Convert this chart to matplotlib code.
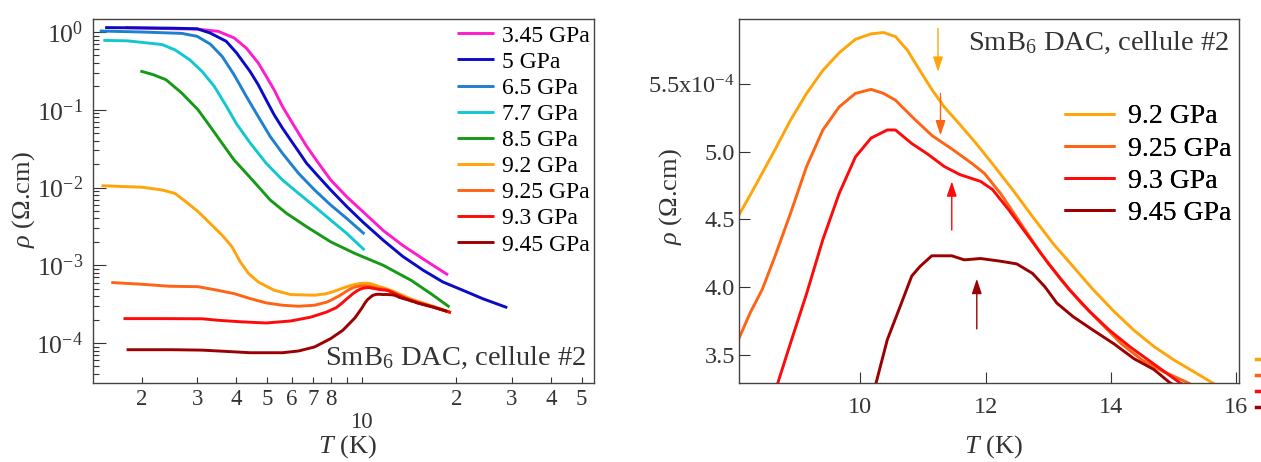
import numpy as np
import matplotlib
matplotlib.use('Agg')
import matplotlib.pyplot as plt
from matplotlib import ticker
from matplotlib.lines import Line2D

plt.rcParams['font.family'] = ['Liberation Serif', 'DejaVu Serif']
plt.rcParams['mathtext.fontset'] = 'custom'
plt.rcParams['mathtext.rm'] = 'Liberation Serif'
plt.rcParams['mathtext.it'] = 'Liberation Serif:italic'
plt.rcParams['axes.unicode_minus'] = False

#data: temperature T (K), resistivity rho (Ohm.cm)
labels = ['3.45 GPa', '5 GPa', '6.5 GPa', '7.7 GPa', '8.5 GPa',
          '9.2 GPa', '9.25 GPa', '9.3 GPa', '9.45 GPa']
colors = ['#ff1ccc', '#0a0ac8', '#1f80d0', '#12c8d0', '#169a16',
          '#ffa40a', '#ff6414', '#ff0a0a', '#9c0000']

T_345 = [1.77, 2.3, 3.0, 3.5, 3.93, 4.3, 4.69, 4.97, 5.27, 5.6, 5.94, 6.3, 6.68,
         7.29, 7.97, 8.96, 10.08, 11.7, 13.5, 15.7, 18.8]
r_345 = [1.14, 1.11, 1.09, 1.02, 0.84, 0.62, 0.40, 0.27, 0.18, 0.11, 0.074, 0.050,
         0.034, 0.0205, 0.0125, 7.6e-3, 4.9e-3, 2.8e-3, 1.8e-3, 1.2e-3, 7.5e-4]

T_5 = [1.53, 2.0, 2.5, 3.0, 3.3, 3.71, 4.0, 4.42, 4.69, 4.97, 5.27, 5.6, 5.94, 6.3,
       6.68, 7.29, 7.97, 8.96, 10.08, 11.7, 13.5, 15.7, 18.1, 21.0, 24.3, 29.0]
r_5 = [1.14, 1.13, 1.12, 1.10, 0.97, 0.76, 0.54, 0.31, 0.21, 0.134, 0.086, 0.058,
       0.041, 0.029, 0.0205, 0.0138, 9.3e-3, 5.7e-3, 3.6e-3, 2.1e-3, 1.3e-3, 8.6e-4,
       6.1e-4, 4.75e-4, 3.7e-4, 2.85e-4]

T_65 = [1.47, 2.0, 2.68, 3.0, 3.3, 3.6, 3.93, 4.3, 4.69, 5.12, 5.6, 6.3, 7.08, 7.97,
        8.96, 10.2]
r_65 = [1.03, 1.0, 0.96, 0.88, 0.70, 0.486, 0.282, 0.148, 0.0818, 0.0452, 0.0275,
        0.0152, 9.3e-3, 5.95e-3, 4.0e-3, 2.52e-3]

T_77 = [1.51, 1.8, 2.32, 2.55, 2.84, 3.11, 3.40, 3.71, 4.0, 4.42, 4.97, 5.6, 6.3,
        7.08, 7.97, 8.96, 10.2]
r_77 = [0.78, 0.77, 0.69, 0.59, 0.44, 0.311, 0.20, 0.112, 0.066, 0.0375, 0.0205,
        0.0125, 8.4e-3, 5.7e-3, 3.81e-3, 2.57e-3, 1.57e-3]

T_85 = [1.98, 2.18, 2.39, 2.68, 3.02, 3.3, 3.6, 3.93, 4.3, 4.69, 5.12, 5.77, 6.68,
        7.97, 9.51, 11.7, 14.35, 16.6, 19.0]
r_85 = [0.315, 0.282, 0.243, 0.164, 0.0998, 0.0608, 0.0371, 0.0226, 0.0152, 0.0103,
        6.9e-3, 4.65e-3, 3.13e-3, 2.0e-3, 1.42e-3, 1.0e-3, 6.4e-4, 4.3e-4, 2.9e-4]

T_92 = [1.49, 1.73, 2.0, 2.32, 2.55, 2.76, 3.02, 3.30, 3.60, 3.87, 4.11, 4.37, 4.69,
        5.27, 5.94, 7.08, 7.7, 8.05, 8.24, 8.43, 8.63, 8.88, 9.14, 9.40, 9.66, 9.92,
        10.17, 10.37, 10.56, 10.75, 10.95, 11.14, 11.34, 11.59, 11.85, 12.11, 12.43,
        12.75, 13.08, 13.4, 13.72, 14.05, 14.37, 14.69, 15.01, 15.34, 15.63, 17.3, 19.2]
r_92 = [1.056e-2, 1.03e-2, 1.01e-2, 9.3e-3, 8.4e-3, 6.57e-3, 4.9e-3, 3.45e-3, 2.44e-3,
        1.73e-3, 1.11e-3, 7.83e-4, 6.1e-4, 4.77e-4, 4.2e-4, 4.12e-4, 4.3e-4,
        4.525e-4, 4.68e-4, 4.84e-4, 5.01e-4, 5.23e-4, 5.43e-4, 5.60e-4, 5.73e-4,
        5.83e-4, 5.87e-4, 5.88e-4, 5.85e-4, 5.75e-4, 5.60e-4, 5.46e-4, 5.33e-4,
        5.20e-4, 5.06e-4, 4.91e-4, 4.72e-4, 4.52e-4, 4.32e-4, 4.15e-4, 3.98e-4,
        3.82e-4, 3.68e-4, 3.56e-4, 3.46e-4, 3.37e-4, 3.29e-4, 2.85e-4, 2.45e-4]

T_925 = [1.60, 2.0, 2.45, 3.02, 3.39, 3.93, 4.42, 4.97, 5.6, 6.3, 7.08, 7.73, 8.05,
         8.24, 8.43, 8.63, 8.88, 9.14, 9.40, 9.66, 9.92, 10.17, 10.37, 10.56, 10.82,
         11.14, 11.46, 11.79, 11.98, 12.24, 12.56, 12.88, 13.21, 13.53, 13.85, 14.17,
         14.5, 14.82, 15.24, 17.0, 19.2]
r_925 = [6.0e-4, 5.7e-4, 5.37e-4, 5.3e-4, 4.87e-4, 4.32e-4, 3.73e-4, 3.28e-4, 3.06e-4,
         2.97e-4, 3.06e-4, 3.35e-4, 3.61e-4, 3.81e-4, 3.98e-4, 4.22e-4, 4.54e-4,
         4.89e-4, 5.16e-4, 5.33e-4, 5.43e-4, 5.46e-4, 5.43e-4, 5.38e-4, 5.26e-4,
         5.12e-4, 5.02e-4, 4.91e-4, 4.84e-4, 4.69e-4, 4.47e-4, 4.25e-4, 4.05e-4,
         3.88e-4, 3.73e-4, 3.58e-4, 3.46e-4, 3.38e-4, 3.29e-4, 2.9e-4, 2.47e-4]

T_93 = [1.75, 2.32, 3.11, 3.5, 4.17, 4.97, 5.94, 6.88, 7.73, 8.3, 8.68, 8.88, 9.14,
        9.40, 9.66, 9.92, 10.17, 10.43, 10.56, 10.82, 11.08, 11.34, 11.59, 11.92,
        12.11, 12.37, 12.69, 13.01, 13.34, 13.66, 13.98, 14.3, 14.63, 15.11, 17.0, 19.2]
r_93 = [2.06e-4, 2.06e-4, 2.05e-4, 1.96e-4, 1.87e-4, 1.81e-4, 1.92e-4, 2.15e-4,
        2.5e-4, 2.85e-4, 3.29e-4, 3.58e-4, 3.95e-4, 4.35e-4, 4.69e-4, 4.96e-4,
        5.10e-4, 5.16e-4, 5.16e-4, 5.06e-4, 4.98e-4, 4.89e-4, 4.83e-4, 4.78e-4,
        4.72e-4, 4.57e-4, 4.37e-4, 4.17e-4, 3.98e-4, 3.82e-4, 3.68e-4, 3.56e-4,
        3.45e-4, 3.29e-4, 2.88e-4, 2.46e-4]

T_945 = [1.79, 2.5, 3.11, 3.71, 4.42, 5.6, 6.3, 7.08, 7.97, 8.71, 9.51, 10.0, 10.25,
         10.43, 10.63, 10.82, 10.95, 11.14, 11.46, 11.66, 11.92, 12.24, 12.5, 12.75,
         12.95, 13.14, 13.4, 13.72, 14.05, 14.37, 14.69, 14.95, 16.8, 18.7]
r_945 = [8.2e-5, 8.2e-5, 8.1e-5, 7.8e-5, 7.5e-5, 7.5e-5, 7.9e-5, 8.9e-5, 1.14e-4,
         1.46e-4, 2.1e-4, 2.8e-4, 3.29e-4, 3.61e-4, 3.85e-4, 4.08e-4, 4.15e-4,
         4.23e-4, 4.23e-4, 4.20e-4, 4.21e-4, 4.19e-4, 4.17e-4, 4.10e-4, 4.00e-4,
         3.88e-4, 3.78e-4, 3.68e-4, 3.58e-4, 3.47e-4, 3.39e-4, 3.29e-4, 2.9e-4, 2.55e-4]

series_T = [T_345, T_5, T_65, T_77, T_85, T_92, T_925, T_93, T_945]
series_r = [r_345, r_5, r_65, r_77, r_85, r_92, r_925, r_93, r_945]

#arrows on the zoomed panel: (T, rho tail, rho tip) in 1e-4 Ohm.cm
arrow_T = [11.24, 11.28, 11.46, 11.86]
arrow_tail = [5.91, 5.43, 4.42, 3.69]
arrow_tip = [5.59, 5.12, 4.78, 4.06]

W, H = 1261, 462
fig = plt.figure(figsize=(W/100, H/100), dpi=100)
ax1 = fig.add_axes([93/W, 1-383/H, 501/W, 364/H])
ax2 = fig.add_axes([739/W, 1-383/H, 500/W, 364/H])

txt = '#333333'
lw = 2.1

#left panel
for T, r, c, lab in zip(series_T, series_r, colors, labels):
    ax1.plot(T, r, color=c, lw=lw, label=lab, solid_capstyle='butt')

ax1.set_xscale('log')
ax1.set_yscale('log')
ax1.set_xlim(1.40, 54.7)
ax1.set_ylim(3.06e-5, 1.47)

ax1.xaxis.set_major_locator(ticker.FixedLocator([10]))
ax1.xaxis.set_major_formatter(ticker.FixedFormatter(['10']))
ax1.xaxis.set_minor_locator(ticker.FixedLocator([2, 3, 4, 5, 6, 7, 8, 9, 20, 30, 40, 50]))

def minor_lab(v, pos):
    d = int(round(v / 10**np.floor(np.log10(v))))
    return '' if d == 9 else str(d)

ax1.xaxis.set_minor_formatter(ticker.FuncFormatter(minor_lab))
ax1.yaxis.set_major_locator(ticker.LogLocator(base=10, numticks=10))
ax1.yaxis.set_minor_locator(ticker.LogLocator(base=10, subs=np.arange(2, 10), numticks=10))
ax1.yaxis.set_minor_formatter(ticker.NullFormatter())

ax1.tick_params(axis='x', which='major', direction='in', length=4, width=0.8,
                pad=21, labelsize=16.5, colors=txt)
ax1.tick_params(axis='x', which='minor', direction='in', length=4, width=0.8,
                pad=4, labelsize=16.5, colors=txt)
ax1.tick_params(axis='y', which='major', direction='in', length=9, width=0.8,
                pad=7, labelsize=18.5, colors=txt)
ax1.tick_params(axis='y', which='minor', direction='in', length=4, width=0.8, colors=txt)

ax1.legend(loc='upper left', bbox_to_anchor=(457/W, 1-25/H), bbox_transform=fig.transFigure,
           frameon=False, fontsize=17, borderpad=0, borderaxespad=0, handlelength=1.55,
           handletextpad=0.35, labelspacing=0.195)

ax1.text(0.985, 0.07, r'SmB$_\mathregular{6}$ DAC, cellule #2', transform=ax1.transAxes,
         ha='right', va='center', fontsize=20.5, color=txt)

#right panel, same data in 1e-4 Ohm.cm
for T, r, c, lab in zip(series_T[5:], series_r[5:], colors[5:], labels[5:]):
    ax2.plot(T, np.array(r)*1e4, color=c, lw=lw, label=lab, solid_capstyle='butt')

for x, y0, y1, c in zip(arrow_T, arrow_tail, arrow_tip, colors[5:]):
    ax2.annotate('', xy=(x, y1), xytext=(x, y0),
                 arrowprops=dict(arrowstyle='-|>,head_length=0.9,head_width=0.3',
                                 color=c, lw=1.0, shrinkA=0, shrinkB=0))

ax2.set_xlim(8.06, 16.05)
ax2.set_ylim(3.29, 5.98)
ax2.xaxis.set_major_locator(ticker.FixedLocator([10, 12, 14, 16]))
ax2.yaxis.set_major_locator(ticker.FixedLocator([3.5, 4.0, 4.5, 5.0, 5.5]))
ax2.yaxis.set_major_formatter(ticker.FixedFormatter(
    ['3.5', '4.0', '4.5', '5.0', r'5.5x10$^{\mathregular{-4}}$']))
ax2.tick_params(axis='x', direction='in', length=8, width=0.8, pad=10,
                labelsize=17.5, colors=txt)
ax2.tick_params(axis='y', direction='in', length=8, width=0.8, pad=3,
                labelsize=17.5, colors=txt)

leg2 = ax2.legend(loc='upper left', bbox_to_anchor=(1064/W, 1-104/H),
                  bbox_transform=fig.transFigure, frameon=False, fontsize=20,
                  borderpad=0, borderaxespad=0, handlelength=1.85, handletextpad=0.45,
                  labelspacing=0.24)
ax2.add_artist(leg2)

#clipped remnant of a second legend at the right border
stubs = [Line2D([], [], color=c, lw=2.5) for c in colors[5:]]
fig.legend(stubs, ['', '', '', ''], loc='upper left', bbox_to_anchor=(1256/W, 1-354/H),
           frameon=False, fontsize=11, borderpad=0, borderaxespad=0, handlelength=2,
           labelspacing=0.135)

ax2.text(0.98, 0.935, r'SmB$_\mathregular{6}$ DAC, cellule #2', transform=ax2.transAxes,
         ha='right', va='center', fontsize=20.5, color=txt)

for ax in (ax1, ax2):
    for s in ax.spines.values():
        s.set_color('#444444')
        s.set_linewidth(1.0)

#axis labels
fig.text(24/W, 1-200/H, r'$\rho$ (Ω.cm)', rotation=90, ha='center', va='center',
         fontsize=19, color=txt)
fig.text(671/W, 1-197/H, r'$\rho$ (Ω.cm)', rotation=90, ha='center', va='center',
         fontsize=19, color=txt)
fig.text(347/W, 1-447/H, r'$T$ (K)', ha='center', va='center', fontsize=19, color=txt)
fig.text(993/W, 1-447/H, r'$T$ (K)', ha='center', va='center', fontsize=19, color=txt)

fig.savefig('out.png', dpi=100)
